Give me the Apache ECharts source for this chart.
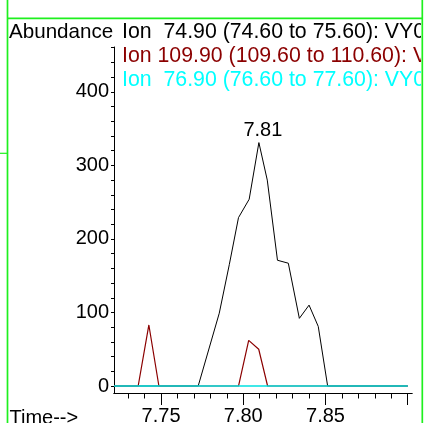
<!DOCTYPE html>
<html>
<head>
<meta charset="utf-8">
<script src="https://cdn.jsdelivr.net/npm/echarts@6/dist/echarts.min.js"></script>
<style>html,body{margin:0;padding:0;background:#fff;}#c{width:425px;height:423px;}</style>
</head>
<body>
<div id="c"></div>
<script>
// Data (retention time in minutes, abundance)
const blackTimes = [7.7214, 7.7726, 7.7854, 7.7915, 7.7971, 7.8036, 7.8095, 7.8146, 7.8208, 7.8274, 7.8341, 7.8400, 7.8456, 7.8513, 7.9000];
const blackValues = [0, 0, 99, 165, 229, 254, 331, 280, 171, 167, 92, 110, 81, 0, 0];
const redTimes = [7.7214, 7.7361, 7.7426, 7.7487, 7.7971, 7.8033, 7.8094, 7.8148, 7.9000];
const redValues = [0, 0, 83, 0, 0, 62, 50, 0, 0];
const cyanTimes = [7.7214, 7.9000];
const cyanValues = [0, 0];
const peakLabelIndex = 6;
const yLabels = [0, 100, 200, 300, 400];
const yTicks = [0,20,40,60,80,100,120,140,160,180,200,220,240,260,280,300,320,340,360,380,400,420,440,460];
const xLabels = [7.75, 7.80, 7.85];
const xMajorTicks = [7.75, 7.80, 7.85, 7.90];
const xMinorTicks = [7.73,7.74,7.75,7.76,7.77,7.78,7.79,7.80,7.81,7.82,7.83,7.84,7.85,7.86,7.87,7.88,7.89,7.90];
const ionTexts = [
  'Ion  74.90 (74.60 to 75.60): VY0',
  'Ion 109.90 (109.60 to 110.60): V',
  'Ion  76.90 (76.60 to 77.60): VY0'
];
const ionColors = ['#000000', '#8B0000', '#00FFFF'];

const FAM = '"Liberation Sans", Arial, sans-serif';
const zip = (t, v) => t.map((x, i) => [x, v[i]]);

const blackData = zip(blackTimes, blackValues).map((p, i) => i === peakLabelIndex ? {
  value: p,
  label: { show: true, position: 'top', distance: 2, offset: [4, 0], formatter: (pr) => pr.value[0].toFixed(2), fontSize: 20, fontFamily: FAM, color: '#000' }
} : p);

const chart = echarts.init(document.getElementById('c'), null, { renderer: 'canvas' });
const xMin = 7.7214, xMax = 7.9026;
const green = '#1EF01E';
chart.setOption({
  animation: false,
  backgroundColor: '#fff',
  grid: { left: 114, right: 13, top: 47, bottom: 30, outerBoundsMode: 'none', containLabel: false },
  xAxis: [
    { type: 'value', min: xMin, max: xMax, position: 'bottom',
      axisLine: { onZero: false, lineStyle: { color: '#000', width: 1 } },
      axisTick: { show: true, length: 5.5, customValues: xMinorTicks, lineStyle: { color: '#000' } },
      axisLabel: { show: false }, splitLine: { show: false } },
    { type: 'value', min: xMin, max: xMax, position: 'bottom',
      axisLine: { show: true, onZero: false, lineStyle: { color: '#000', width: 1 } },
      axisTick: { show: true, length: 12, customValues: xMajorTicks, lineStyle: { color: '#000' } },
      axisLabel: { show: true, customValues: xLabels, margin: 13.5, fontSize: 20, fontFamily: FAM, color: '#000', formatter: v => v.toFixed(2) },
      splitLine: { show: false } }
  ],
  yAxis: { type: 'value', min: -9.5, max: 461,
    axisLine: { show: true, onZero: false, lineStyle: { color: '#000', width: 1 } },
    axisTick: { show: true, length: 3, customValues: yTicks, lineStyle: { color: '#000' } },
    axisLabel: { show: true, customValues: yLabels, margin: 5, fontSize: 20, fontFamily: FAM, color: '#000' },
    splitLine: { show: false } },
  series: [
    { type: 'line', xAxisIndex: 0, data: blackData, showSymbol: true, symbol: 'circle', symbolSize: 0, lineStyle: { color: '#000', width: 1 }, itemStyle: { color: '#000' }, z: 3 },
    { type: 'line', xAxisIndex: 0, data: zip(redTimes, redValues), showSymbol: false, symbol: 'none', lineStyle: { color: '#8B0000', width: 1.2 }, z: 4 },
    { type: 'line', xAxisIndex: 0, data: zip(cyanTimes, cyanValues), showSymbol: false, symbol: 'none', lineStyle: { color: '#00E0E0', width: 1.5 }, z: 5 }
  ],
  graphic: [
    { type: 'text', x: 9, y: 21.5, z: 10, style: { text: 'Abundance', font: '20.6px ' + FAM, fill: '#000', verticalAlign: 'top' } },
    { type: 'text', x: 9.5, y: 408, z: 10, style: { text: 'Time-->', font: '20px ' + FAM, fill: '#000', verticalAlign: 'top' } },
    ...ionTexts.map((t, i) => ({ type: 'text', x: 122, y: 21.5 + i * 24, z: 10, style: { text: t, font: '21.3px ' + FAM, fill: ionColors[i], verticalAlign: 'top' } })),
    { type: 'rect', z: 20, shape: { x: 421, y: 19, width: 4, height: 404 }, style: { fill: '#fff' } },
    { type: 'line', z: 30, shape: { x1: 7.5, y1: 0, x2: 7.5, y2: 423 }, style: { stroke: green, lineWidth: 1.7 } },
    { type: 'line', z: 30, shape: { x1: 422.3, y1: 0, x2: 422.3, y2: 423 }, style: { stroke: green, lineWidth: 1.7 } },
    { type: 'line', z: 30, shape: { x1: 7.5, y1: 18.3, x2: 422.3, y2: 18.3 }, style: { stroke: green, lineWidth: 1.7 } },
    { type: 'line', z: 30, shape: { x1: 0, y1: 153.3, x2: 7.5, y2: 153.3 }, style: { stroke: green, lineWidth: 1.2 } }
  ]
});
</script>
</body>
</html>
